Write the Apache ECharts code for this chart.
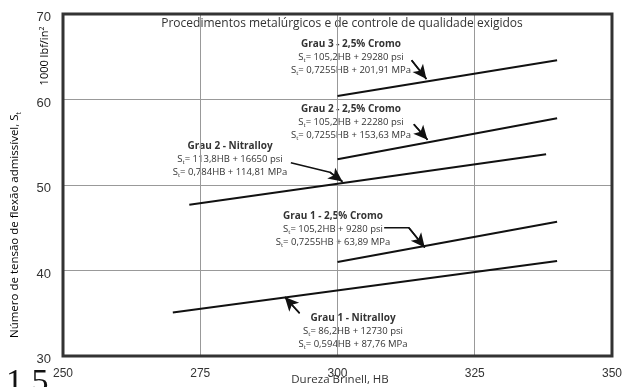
<!DOCTYPE html>
<html><head><meta charset="utf-8">
<script src="https://cdn.jsdelivr.net/npm/echarts@6/dist/echarts.min.js"></script>
<style>html,body{margin:0;padding:0;background:#fff}#c{width:625px;height:387px}</style>
</head><body><div id="c"></div>
<script>
// Axis ticks
const xTicks = [250, 275, 300, 325, 350];
const yTicks = [30, 40, 50, 60, 70];
// Series (HB, S_t in 1000 lbf/in^2)
const grau1Nitralloy = [[270, 35.1], [340, 41.1]];
const grau1Cromo = [[300, 41.0], [340, 45.7]];
const grau2Nitralloy = [[273, 47.7], [338, 53.6]];
const grau2Cromo = [[300, 53.0], [340, 57.8]];
const grau3Cromo = [[300, 60.4], [340, 64.6]];
// Annotation arrows (data coordinates; last segment has arrow head)
const arrowGrau3 = [[313.5, 64.6], [316.2, 62.4]];
const arrowGrau2Cromo = [[313.9, 57.1], [316.4, 55.3]];
const arrowGrau2Nitralloy = [[291.5, 52.6], [298.6, 51.5], [300.9, 50.4]];
const arrowGrau1Cromo = [[308.5, 45.0], [313.0, 45.0], [315.9, 42.7]];
const arrowGrau1Nitralloy = [[293.1, 35.0], [290.4, 36.9]];

const FONT = '"Open Sans", sans-serif';
const chart = echarts.init(document.getElementById('c'), null, {renderer: 'canvas'});

function curve(name, data) {
  return {name, type: 'line', data, symbol: 'none', silent: true,
    lineStyle: {color: '#111', width: 2}, z: 5};
}
function arrow(pts) {
  const last = pts.slice(-2);
  return {type: 'line', data: pts, symbol: 'none', silent: true,
    lineStyle: {color: '#111', width: 1.6}, z: 6,
    markLine: {silent: true, symbol: ['none', 'arrow'], symbolSize: [10, 14],
      lineStyle: {color: '#111', width: 1.6, type: 'solid'}, label: {show: false},
      data: [[{coord: last[0]}, {coord: last[1]}]]}};
}
const rich = {
  n: {fontFamily: FONT, fontSize: 9.5, color: '#333'},
  sub: {fontFamily: FONT, fontSize: 6, color: '#333', padding: [6, 0, 0, 0]}
};
function txt(x, y, text, opts) {
  return Object.assign({type: 'text', x, y, silent: true,
    style: {text, fontFamily: FONT, fontSize: 9.5, fill: '#333', textAlign: 'center', textVerticalAlign: 'middle', rich}}, opts || {});
}
function block(x, y, title, l2, l3) {
  return [
    txt(x, y, title, {style: {text: title, fontFamily: FONT, fontSize: 10, fontWeight: 'bold', fill: '#333', textAlign: 'center', textVerticalAlign: 'middle'}}),
    txt(x, y + 13, '{n|S}{sub|t}{n|= ' + l2 + '}'),
    txt(x, y + 26, '{n|S}{sub|t}{n|= ' + l3 + '}')
  ];
}

const graphics = [].concat(
  [txt(342, 24, '', {style: {text: 'Procedimentos metalúrgicos e de controle de qualidade exigidos', fontFamily: FONT, fontSize: 12, fill: '#333', textAlign: 'center', textVerticalAlign: 'middle'}})],
  block(351, 44, 'Grau 3 - 2,5% Cromo', '105,2HB + 29280 psi', '0,7255HB + 201,91 MPa'),
  block(351, 109, 'Grau 2 - 2,5% Cromo', '105,2HB + 22280 psi', '0,7255HB + 153,63 MPa'),
  block(230, 146, 'Grau 2 - Nitralloy', '113,8HB + 16650 psi', '0,784HB + 114,81 MPa'),
  block(333, 216, 'Grau 1 - 2,5% Cromo', '105,2HB + 9280 psi', '0,7255HB + 63,89 MPa'),
  block(353, 318, 'Grau 1 - Nitralloy', '86,2HB + 12730 psi', '0,594HB + 87,76 MPa'),
  [
    {type: 'text', x: 15, y: 225, rotation: Math.PI / 2, silent: true,
      style: {text: '{m|Número de tensão de flexão admissível, S}{s|t}', textAlign: 'center', textVerticalAlign: 'middle',
        rich: {m: {fontFamily: FONT, fontSize: 11.5, color: '#333'}, s: {fontFamily: FONT, fontSize: 7, color: '#333', padding: [7, 0, 0, 0]}}}},
    {type: 'text', x: 45, y: 56, rotation: Math.PI / 2, silent: true,
      style: {text: '{m|1000 lbf/in}{s|2}', textAlign: 'center', textVerticalAlign: 'middle',
        rich: {m: {fontFamily: FONT, fontSize: 11, color: '#333'}, s: {fontFamily: FONT, fontSize: 7, color: '#333', padding: [0, 0, 7, 0]}}}},
    {type: 'text', x: 340, y: 380, silent: true,
      style: {text: 'Dureza Brinell, HB', fontFamily: FONT, fontSize: 11.5, fill: '#333', textAlign: 'center', textVerticalAlign: 'middle'}},
    {type: 'text', x: 6, y: 366, silent: true,
      style: {text: '1 5', fontFamily: '"Liberation Serif", serif', fontSize: 34, fill: '#111', textAlign: 'left', textVerticalAlign: 'top'}}
  ]
);

chart.setOption({
  animation: false,
  backgroundColor: '#fff',
  grid: {left: 63, top: 14, right: 8, bottom: 31, show: true, borderColor: '#333', borderWidth: 3, backgroundColor: 'transparent', z: 10},
  xAxis: {type: 'value', min: xTicks[0], max: xTicks[xTicks.length - 1], interval: 25,
    axisLine: {show: false}, axisTick: {show: false},
    axisLabel: {color: '#333', fontFamily: '"Liberation Sans", Arial', fontSize: 12, margin: 12,
      formatter: v => xTicks.includes(v) ? String(v) : ''},
    splitLine: {show: true, lineStyle: {color: '#999', width: 1}}},
  yAxis: {type: 'value', min: yTicks[0], max: yTicks[yTicks.length - 1], interval: 10,
    axisLine: {show: false}, axisTick: {show: false},
    axisLabel: {color: '#333', fontFamily: '"Liberation Sans", Arial', fontSize: 13, margin: 12, verticalAlign: 'top', lineHeight: 7,
      formatter: v => yTicks.includes(v) ? String(v) : ''},
    splitLine: {show: true, lineStyle: {color: '#999', width: 1}}},
  series: [
    curve('Grau 1 - Nitralloy', grau1Nitralloy),
    curve('Grau 1 - 2,5% Cromo', grau1Cromo),
    curve('Grau 2 - Nitralloy', grau2Nitralloy),
    curve('Grau 2 - 2,5% Cromo', grau2Cromo),
    curve('Grau 3 - 2,5% Cromo', grau3Cromo),
    arrow(arrowGrau3), arrow(arrowGrau2Cromo), arrow(arrowGrau2Nitralloy),
    arrow(arrowGrau1Cromo), arrow(arrowGrau1Nitralloy)
  ],
  graphic: graphics
});
</script></body></html>
